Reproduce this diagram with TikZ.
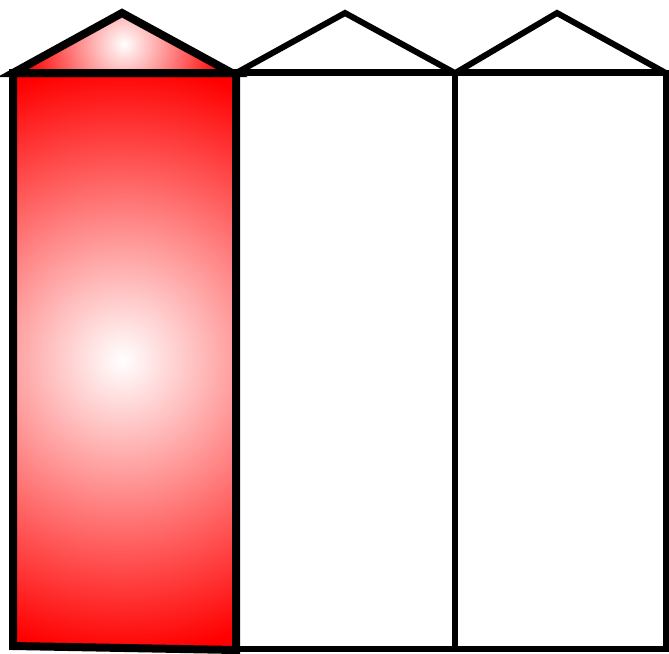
\documentclass[tikz,border=0pt]{standalone}
\begin{document}
\begin{tikzpicture}[x=1pt,y=-1pt, line join=miter,
	housewall/.style={draw=black, line width=6pt},
	redwall/.style={draw=black, line width=8pt}]
	\useasboundingbox (0,0) rectangle (669,653);
	% two plain houses
	\foreach \xl/\xr/\xp in {236/455/345, 455/666/557}{
		\draw[housewall] (\xl,73) rectangle (\xr,649);
		\draw[housewall] (\xl+2,72)--(\xp,13)--(\xr-2,72)--cycle;
	}
	% red house
	\begin{scope}
		\clip (13,73)--(236,73)--(236,650)--(13,646)--cycle;
		\fill[red] (13,73) rectangle (236,650);
		\shade[inner color=white, outer color=red] (122,360) circle (295pt);
	\end{scope}
	\draw[redwall] (13,73)--(236,73)--(236,650)--(13,646)--cycle;
	\begin{scope}
		\clip (13,73)--(122,13)--(232,73)--cycle;
		\fill[red] (13,13) rectangle (232,73);
		\shade[inner color=white, outer color=red] (124,44) circle (100pt);
	\end{scope}
	\draw[redwall] (13,73)--(122,13)--(232,73)--cycle;
\end{tikzpicture}
\end{document}
